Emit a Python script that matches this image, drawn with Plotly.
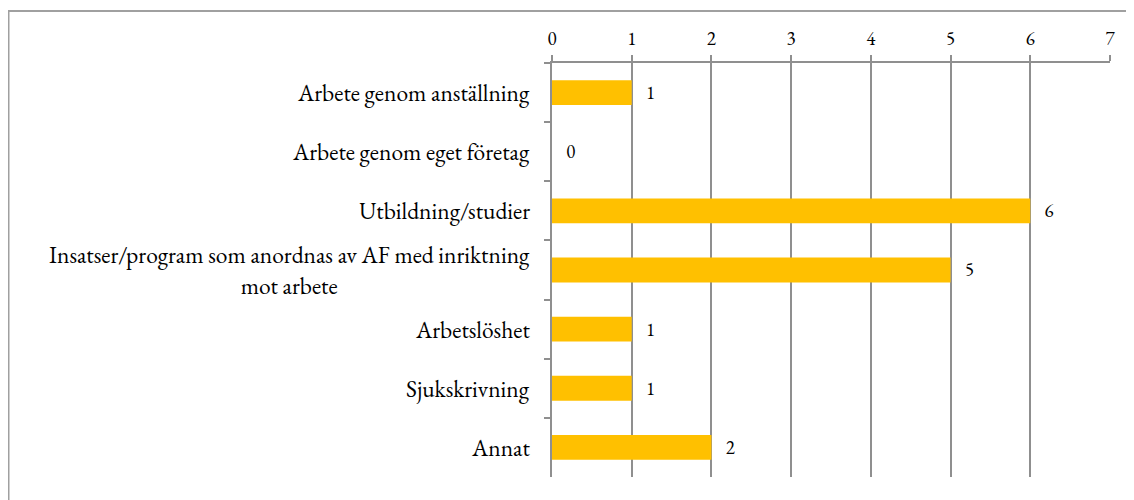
import plotly.graph_objects as go

categories = [
    "Arbete genom anställning",
    "Arbete genom eget företag",
    "Utbildning/studier",
    "Insatser/program som anordnas av AF med inriktning<br>mot arbete",
    "Arbetslöshet",
    "Sjukskrivning",
    "Annat",
]
values = [1, 0, 6, 5, 1, 1, 2]
x_ticks = [0, 1, 2, 3, 4, 5, 6, 7]

FONT = "EB Garamond"

# the page has an 8px body margin; positions below are in figure pixels
W, H = 1134, 500
ml, mr, mt, mb = 544, 32, 55, 31
pw, ph = W - ml - mr, H - mt - mb

def px_x(p):
    return (p - ml) / pw

def px_y(p):
    return (H - mb - p) / ph

fig = go.Figure(go.Bar(
    x=values, y=categories, orientation="h",
    marker=dict(color="#FFC000", line=dict(width=0)),
    text=["\u2002\u2009" + str(v) for v in values], textposition="outside",
    textfont=dict(family=FONT, size=19, color="#000000"),
    cliponaxis=False,
))

for c in categories:
    fig.add_annotation(
        x=0, xref="paper", y=c, yref="y", text=c, showarrow=False,
        xanchor="right", yanchor="middle", align="center", xshift=-20,
        font=dict(family=FONT, size=23.5, color="#000000"),
    )

fig.update_layout(
    width=W, height=H,
    margin=dict(l=ml, r=mr, t=mt, b=mb),
    paper_bgcolor="white", plot_bgcolor="white",
    bargap=0.58,
    showlegend=False,
    font=dict(family=FONT, size=19, color="#000000"),
    xaxis=dict(
        side="top", range=[0, 7], tickvals=x_ticks, ticktext=[str(t) for t in x_ticks],
        showgrid=True, gridcolor="#8f8f8f", gridwidth=1.5,
        showline=True, linecolor="#8f8f8f", linewidth=2,
        ticks="outside", ticklen=6, tickcolor="#8f8f8f", tickwidth=1.5,
        zeroline=False, tickfont=dict(family=FONT, size=19, color="#000000"), ticklabelstandoff=2,
    ),
    yaxis=dict(
        autorange="reversed", type="category",
        showline=True, linecolor="#8f8f8f", linewidth=2,
        ticks="outside", ticklen=6, tickcolor="#8f8f8f", tickwidth=1.5,
        tickson="boundaries", showgrid=False, showticklabels=False,
    ),
    shapes=[dict(
        type="rect", xref="paper", yref="paper",
        x0=px_x(0.5), x1=px_x(1200), y0=px_y(560), y1=px_y(3),
        line=dict(color="#a0a0a0", width=2), fillcolor="rgba(0,0,0,0)", layer="below",
    )],
)

fig.write_html("out.html")
